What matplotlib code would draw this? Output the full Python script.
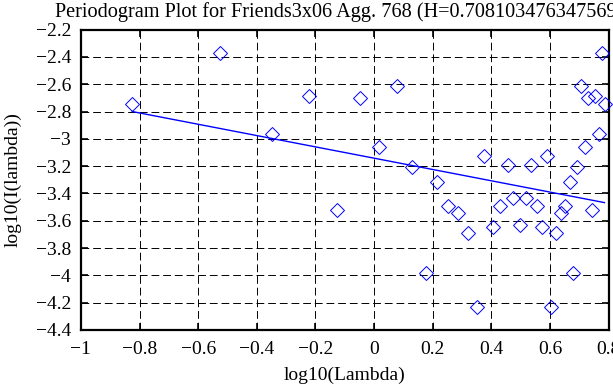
import matplotlib
matplotlib.use("Agg")
import matplotlib.pyplot as plt
import numpy as np

# periodogram points (log10 lambda, log10 I(lambda))
log_lambda = [-0.825, -0.525, -0.349, -0.223, -0.127, -0.048, 0.077, 0.018,
              0.129, 0.216, 0.176, 0.254, 0.288, 0.321, 0.352, 0.376, 0.405,
              0.431, 0.456, 0.474, 0.498, 0.519, 0.537, 0.555, 0.572, 0.589,
              0.604, 0.622, 0.638, 0.653, 0.667, 0.680, 0.693, 0.706, 0.720,
              0.729, 0.745, 0.755, 0.767, 0.778, 0.789]
log_I = [-2.747, -2.373, -2.964, -2.686, -3.521, -2.700, -2.612, -3.062,
         -3.208, -3.313, -3.980, -3.489, -3.541, -3.687, -4.229, -3.123,
         -3.645, -3.489, -3.191, -3.431, -3.631, -3.431, -3.191, -3.489,
         -3.645, -3.123, -4.229, -3.687, -3.541, -3.489, -3.313, -3.980,
         -3.208, -2.612, -3.062, -2.700, -3.521, -2.686, -2.964, -2.373,
         -2.747]

# fitted line end points
fit_x = [-0.825, 0.786]
fit_y = [-2.800, -3.467]

title = "Periodogram Plot for Friends3x06 Agg. 768 (H=0.708103476347569)"

plt.rcParams['font.family'] = ['Liberation Serif', 'DejaVu Serif']

fig = plt.figure(figsize=(6.13, 3.85), dpi=100)
ax = fig.add_axes([0.132, 0.143, 0.8607, 0.780])

ax.plot(fit_x, fit_y, color='#0000ff', linewidth=1.0, zorder=3)
ax.plot(log_lambda, log_I, linestyle='none', marker='D', markersize=7.5,
        markerfacecolor='none', markeredgecolor='#0000ff',
        markeredgewidth=0.7, zorder=4, clip_on=False)

ax.set_xlim(-1, 0.8)
ax.set_ylim(-4.4, -2.2)
ax.set_xticks(np.arange(-1, 0.81, 0.2))
ax.set_xticklabels(['\u22121', '\u22120.8', '\u22120.6', '\u22120.4', '\u22120.2',
                    '0', '0.2', '0.4', '0.6', '0.8'])
ax.set_yticks(np.arange(-4.4, -2.19, 0.2))
ax.set_yticklabels(['\u22124.4', '\u22124.2', '\u22124', '\u22123.8', '\u22123.6',
                    '\u22123.4', '\u22123.2', '\u22123', '\u22122.8', '\u22122.6',
                    '\u22122.4', '\u22122.2'])

ax.grid(True, color='black', linestyle=(0, (8, 4)), linewidth=0.7)
ax.tick_params(direction='in', length=5, width=1.2, top=True, right=True,
               labelsize=14)
ax.tick_params(axis='x', pad=8)
ax.tick_params(axis='y', pad=7)
for s in ax.spines.values():
    s.set_linewidth(1.6)

ax.set_xlabel('log10(Lambda)', fontsize=14, labelpad=6)
ax.set_ylabel('log10(I(lambda))', fontsize=14, labelpad=10)
fig.text(55 / 613, 1 - 2 / 385, title, ha='left', va='top', fontsize=14.6)

fig.savefig('out.png', dpi=100)
